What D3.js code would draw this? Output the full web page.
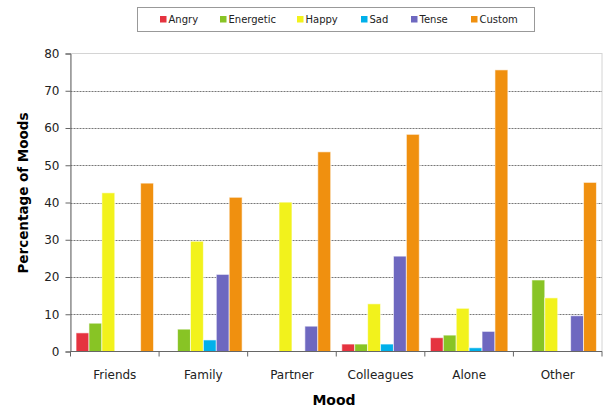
<!DOCTYPE html>
<html>
<head>
<meta charset="utf-8">
<script src="https://cdn.jsdelivr.net/npm/d3@7"></script>
<style>
  body { margin: 0; background: #fff; }
  text { font-family: "DejaVu Sans", Verdana, sans-serif; }
</style>
</head>
<body>
<script>
var categories = ["Friends", "Family", "Partner", "Colleagues", "Alone", "Other"];
var moods = ["Angry", "Energetic", "Happy", "Sad", "Tense", "Custom"];
var colors = ["#e5333f", "#88c425", "#f2f21c", "#00b0ea", "#6e68c0", "#f0900f"];

var angry     = [5.0, 0, 0, 2.0, 3.7, 0];
var energetic = [7.6, 6.0, 0, 2.0, 4.4, 19.2];
var happy     = [42.6, 29.6, 40.1, 12.8, 11.6, 14.4];
var sad       = [0, 3.1, 0, 2.0, 1.0, 0];
var tense     = [0, 20.7, 6.8, 25.6, 5.4, 9.6];
var custom    = [45.2, 41.4, 53.6, 58.3, 75.6, 45.4];

var yTicks = [0, 10, 20, 30, 40, 50, 60, 70, 80];

var series = [angry, energetic, happy, sad, tense, custom];

var width = 605,
    height = 409,
    margin = {top: 53.5, right: 3, bottom: 57.5, left: 70.5};

var svg = d3.select("body").append("svg")
    .attr("width", width)
    .attr("height", height);

var x0 = d3.scaleBand()
    .domain(categories)
    .range([margin.left, width - margin.right])
    .paddingInner(0)
    .paddingOuter(0);

var x1 = d3.scaleBand()
    .domain(moods)
    .range([0, x0.bandwidth()])
    .paddingInner(0.0)
    .paddingOuter(0.43);

var y = d3.scaleLinear()
    .domain([0, 80])
    .range([height - margin.bottom, margin.top]);

// plot frame (light)
svg.append("rect")
    .attr("x", margin.left)
    .attr("y", margin.top)
    .attr("width", width - margin.right - margin.left)
    .attr("height", y(0) - margin.top)
    .attr("fill", "none")
    .attr("stroke", "#d4d4d4")
    .attr("stroke-width", 1);

// gridlines
svg.append("g")
    .selectAll("line")
    .data(yTicks.filter(function(d) { return d > 0 && d < 80; }))
    .enter().append("line")
    .attr("x1", margin.left)
    .attr("x2", width - margin.right)
    .attr("y1", function(d) { return Math.round(y(d)) + 0.5; })
    .attr("y2", function(d) { return Math.round(y(d)) + 0.5; })
    .attr("stroke", "#777")
    .attr("stroke-dasharray", "2,1");

// bars
var groups = svg.append("g")
    .selectAll("g")
    .data(categories)
    .enter().append("g")
    .attr("transform", function(d) { return "translate(" + x0(d) + ",0)"; });

groups.selectAll("rect")
    .data(function(d, i) {
        return moods.map(function(m, j) { return {mood: m, value: series[j][i], color: colors[j]}; });
    })
    .enter().append("rect")
    .filter(function(d) { return d.value > 0; })
    .attr("x", function(d) { return x1(d.mood); })
    .attr("y", function(d) { return y(d.value); })
    .attr("width", x1.bandwidth())
    .attr("height", function(d) { return y(0) - y(d.value); })
    .attr("fill", function(d) { return d.color; })
    .attr("stroke", "#fff")
    .attr("stroke-opacity", 0.6)
    .attr("stroke-width", 1);

// y axis
var yAxis = svg.append("g")
    .attr("transform", "translate(" + margin.left + ",0)")
    .call(d3.axisLeft(y).tickValues(yTicks).tickSize(5).tickPadding(6));
yAxis.select(".domain").attr("stroke", "#666");
yAxis.selectAll(".tick line").attr("stroke", "#666");
yAxis.selectAll("text").attr("font-size", 12).attr("fill", "#222")
    .style("font-family", "DejaVu Sans, sans-serif");

// x axis
var xAxis = svg.append("g")
    .attr("transform", "translate(0," + y(0) + ")");
xAxis.append("line")
    .attr("x1", margin.left)
    .attr("x2", width - margin.right)
    .attr("stroke", "#666");
var bounds = categories.map(function(c) { return x0(c); }).concat([x0(categories[categories.length - 1]) + x0.bandwidth()]);
xAxis.selectAll(".bt")
    .data(bounds)
    .enter().append("line")
    .attr("x1", function(d) { return d; })
    .attr("x2", function(d) { return d; })
    .attr("y1", 0)
    .attr("y2", 5)
    .attr("stroke", "#666");
xAxis.selectAll(".lbl")
    .data(categories)
    .enter().append("text")
    .attr("x", function(d) { return x0(d) + x0.bandwidth() / 2; })
    .attr("y", 27)
    .attr("text-anchor", "middle")
    .attr("font-size", 12)
    .attr("fill", "#222")
    .text(function(d) { return d; });

// axis titles
svg.append("text")
    .attr("x", 334)
    .attr("y", 405)
    .attr("text-anchor", "middle")
    .attr("font-size", 14)
    .attr("font-weight", "bold")
    .text("Mood");

svg.append("text")
    .attr("transform", "translate(28,193) rotate(-90)")
    .attr("text-anchor", "middle")
    .attr("font-size", 13.5)
    .attr("font-weight", "bold")
    .text("Percentage of Moods");

// legend
var legend = svg.append("g");
legend.append("rect")
    .attr("x", 137.5)
    .attr("y", 7.5)
    .attr("width", 397)
    .attr("height", 24)
    .attr("fill", "#fff")
    .attr("stroke", "#999")
    .attr("stroke-width", 1);

var legendX = [160, 220, 297, 361, 411, 471];
var items = legend.selectAll(".item")
    .data(moods)
    .enter().append("g")
    .attr("transform", function(d, i) { return "translate(" + legendX[i] + ",0)"; });
items.append("rect")
    .attr("x", 0)
    .attr("y", 16)
    .attr("width", 6.5)
    .attr("height", 6.5)
    .attr("fill", function(d, i) { return colors[i]; });
items.append("text")
    .attr("x", 8.5)
    .attr("y", 23)
    .attr("font-size", 10)
    .attr("fill", "#222")
    .text(function(d) { return d; });
</script>
</body>
</html>
